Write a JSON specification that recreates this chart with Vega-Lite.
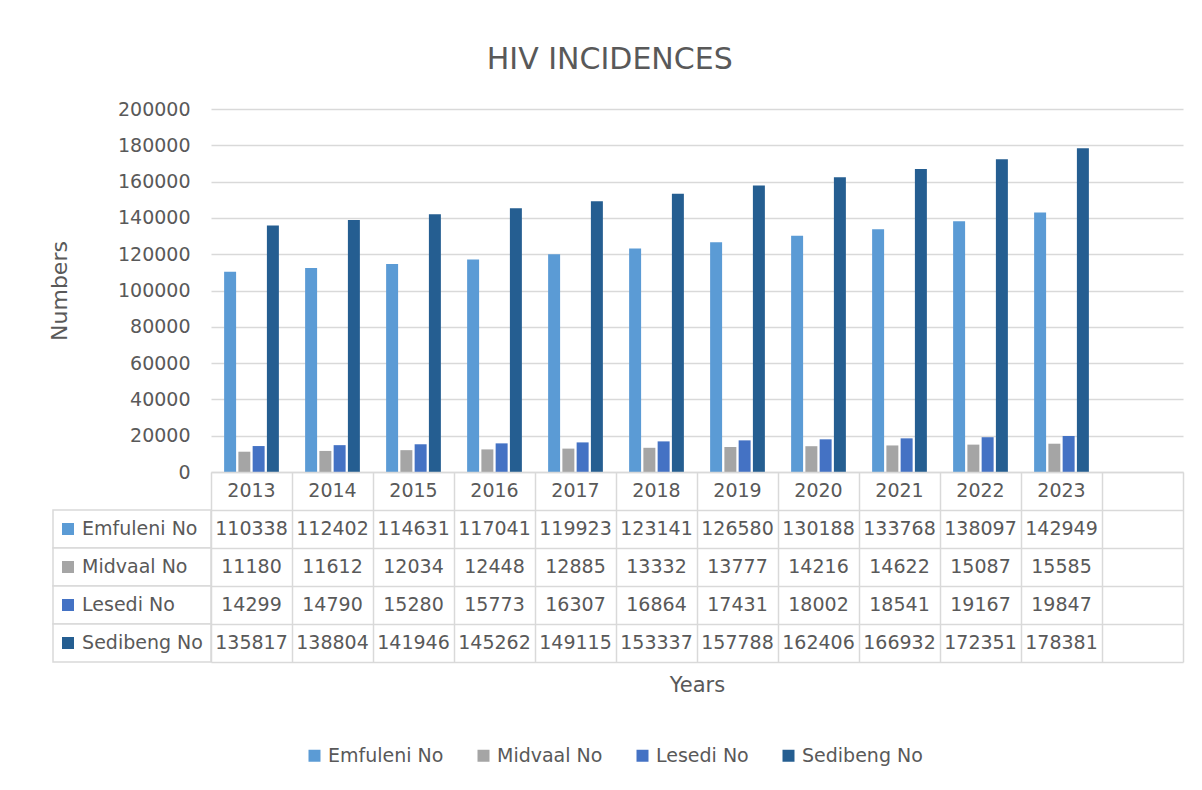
{
  "$schema": "https://vega.github.io/schema/vega-lite/v6.json",
  "background": "white",
  "padding": {"left": 48, "top": 45, "right": 10, "bottom": 10},
  "title": {"text": "HIV INCIDENCES", "fontSize": 30, "fontWeight": "normal", "color": "#595959", "anchor": "middle", "offset": 25, "dx": -6},
  "datasets": {
    "hiv": [
      {"year": "2013", "series": "Emfuleni No", "value": 110338},
      {"year": "2014", "series": "Emfuleni No", "value": 112402},
      {"year": "2015", "series": "Emfuleni No", "value": 114631},
      {"year": "2016", "series": "Emfuleni No", "value": 117041},
      {"year": "2017", "series": "Emfuleni No", "value": 119923},
      {"year": "2018", "series": "Emfuleni No", "value": 123141},
      {"year": "2019", "series": "Emfuleni No", "value": 126580},
      {"year": "2020", "series": "Emfuleni No", "value": 130188},
      {"year": "2021", "series": "Emfuleni No", "value": 133768},
      {"year": "2022", "series": "Emfuleni No", "value": 138097},
      {"year": "2023", "series": "Emfuleni No", "value": 142949},
      {"year": "2013", "series": "Midvaal No", "value": 11180},
      {"year": "2014", "series": "Midvaal No", "value": 11612},
      {"year": "2015", "series": "Midvaal No", "value": 12034},
      {"year": "2016", "series": "Midvaal No", "value": 12448},
      {"year": "2017", "series": "Midvaal No", "value": 12885},
      {"year": "2018", "series": "Midvaal No", "value": 13332},
      {"year": "2019", "series": "Midvaal No", "value": 13777},
      {"year": "2020", "series": "Midvaal No", "value": 14216},
      {"year": "2021", "series": "Midvaal No", "value": 14622},
      {"year": "2022", "series": "Midvaal No", "value": 15087},
      {"year": "2023", "series": "Midvaal No", "value": 15585},
      {"year": "2013", "series": "Lesedi No", "value": 14299},
      {"year": "2014", "series": "Lesedi No", "value": 14790},
      {"year": "2015", "series": "Lesedi No", "value": 15280},
      {"year": "2016", "series": "Lesedi No", "value": 15773},
      {"year": "2017", "series": "Lesedi No", "value": 16307},
      {"year": "2018", "series": "Lesedi No", "value": 16864},
      {"year": "2019", "series": "Lesedi No", "value": 17431},
      {"year": "2020", "series": "Lesedi No", "value": 18002},
      {"year": "2021", "series": "Lesedi No", "value": 18541},
      {"year": "2022", "series": "Lesedi No", "value": 19167},
      {"year": "2023", "series": "Lesedi No", "value": 19847},
      {"year": "2013", "series": "Sedibeng No", "value": 135817},
      {"year": "2014", "series": "Sedibeng No", "value": 138804},
      {"year": "2015", "series": "Sedibeng No", "value": 141946},
      {"year": "2016", "series": "Sedibeng No", "value": 145262},
      {"year": "2017", "series": "Sedibeng No", "value": 149115},
      {"year": "2018", "series": "Sedibeng No", "value": 153337},
      {"year": "2019", "series": "Sedibeng No", "value": 157788},
      {"year": "2020", "series": "Sedibeng No", "value": 162406},
      {"year": "2021", "series": "Sedibeng No", "value": 166932},
      {"year": "2022", "series": "Sedibeng No", "value": 172351},
      {"year": "2023", "series": "Sedibeng No", "value": 178381}
    ]
  },
  "columns": 2,
  "align": "each",
  "bounds": "flush",
  "spacing": {"row": 0, "column": 0},
  "concat": [
    {
      "width": 158,
      "height": 10,
      "data": {"values": [{"a": 1}]},
      "mark": {"type": "text", "text": ""},
      "encoding": {}
    },
    {
      "width": 972,
      "height": 363,
      "data": {"name": "hiv"},
      "mark": {"type": "bar"},
      "encoding": {
        "x": {"field": "year", "type": "nominal", "scale": {"domain": ["2013", "2014", "2015", "2016", "2017", "2018", "2019", "2020", "2021", "2022", "2023", " "], "paddingInner": 0, "paddingOuter": 0}, "axis": null},
        "xOffset": {"field": "series", "type": "nominal", "scale": {"domain": ["Emfuleni No", "Midvaal No", "Lesedi No", "Sedibeng No"], "paddingInner": 0.16, "paddingOuter": 0.92}},
        "y": {
          "field": "value", "type": "quantitative",
          "scale": {"domain": [0, 200000], "nice": false},
          "axis": {
            "values": [0, 20000, 40000, 60000, 80000, 100000, 120000, 140000, 160000, 180000, 200000],
            "format": "d", "title": "Numbers", "grid": true, "gridColor": "#d9d9d9", "gridWidth": 1.5,
            "domain": false, "ticks": false, "tickSize": 0, "labelPadding": 21, "labelFontSize": 19,
            "labelColor": "#595959", "titleFontSize": 22, "titleColor": "#595959", "titleFontWeight": "normal", "titlePadding": 46
          }
        },
        "color": {
          "field": "series", "type": "nominal",
          "scale": {"domain": ["Emfuleni No", "Midvaal No", "Lesedi No", "Sedibeng No"], "range": ["#5b9bd5", "#a5a5a5", "#4472c4", "#255e91"]},
          "legend": {"orient": "none", "legendX": 94, "legendY": 637, "direction": "horizontal", "title": null, "symbolType": "square", "symbolSize": 144, "symbolStrokeWidth": 0, "labelFontSize": 19, "labelColor": "#595959", "columnPadding": 30, "labelOffset": 4}
        }
      }
    },
    {
      "width": 158,
      "height": 190,
      "data": {"name": "hiv"},
      "transform": [{"filter": "datum.year === '2013'"}],
      "encoding": {
        "y": {"field": "series", "type": "nominal", "scale": {"domain": ["Year", "Emfuleni No", "Midvaal No", "Lesedi No", "Sedibeng No"], "paddingInner": 0, "paddingOuter": 0}, "axis": null}
      },
      "layer": [
        {
          "mark": {"type": "rect", "fill": "white", "stroke": "#d9d9d9", "strokeWidth": 1.5},
          "encoding": {"x": {"datum": "c", "type": "nominal", "scale": {"type": "band", "paddingInner": 0, "paddingOuter": 0}, "axis": null}}
        },
        {
          "mark": {"type": "square", "size": 144, "opacity": 1},
          "encoding": {
            "x": {"datum": "c", "type": "nominal", "bandPosition": 0.095, "scale": {"type": "band", "paddingInner": 0, "paddingOuter": 0}, "axis": null},
            "color": {"field": "series", "type": "nominal", "scale": {"domain": ["Emfuleni No", "Midvaal No", "Lesedi No", "Sedibeng No"], "range": ["#5b9bd5", "#a5a5a5", "#4472c4", "#255e91"]}, "legend": null}
          }
        },
        {
          "mark": {"type": "text", "align": "left", "baseline": "middle", "fontSize": 19, "color": "#595959"},
          "encoding": {
            "x": {"datum": "c", "type": "nominal", "bandPosition": 0.184, "scale": {"type": "band", "paddingInner": 0, "paddingOuter": 0}, "axis": null},
            "text": {"field": "series"}
          }
        }
      ]
    },
    {
      "width": 972,
      "height": 190,
      "data": {"name": "hiv"},
      "encoding": {
        "x": {
          "field": "year", "type": "nominal",
          "scale": {"domain": ["2013", "2014", "2015", "2016", "2017", "2018", "2019", "2020", "2021", "2022", "2023", " "], "paddingInner": 0, "paddingOuter": 0},
          "axis": {"grid": true, "tickBand": "extent", "gridColor": "#d9d9d9", "gridWidth": 1.5, "labels": false, "ticks": false, "domain": false, "title": "Years", "titleFontSize": 21, "titlePadding": 12, "titleColor": "#595959", "titleFontWeight": "normal"}
        },
        "y": {
          "field": "series", "type": "nominal",
          "scale": {"domain": ["Year", "Emfuleni No", "Midvaal No", "Lesedi No", "Sedibeng No"], "paddingInner": 0, "paddingOuter": 0},
          "axis": {"grid": true, "tickBand": "extent", "gridColor": "#d9d9d9", "gridWidth": 1.5, "labels": false, "ticks": false, "domain": false, "title": null}
        }
      },
      "layer": [
        {
          "mark": {"type": "text", "fontSize": 19, "color": "#595959", "baseline": "middle"},
          "encoding": {"text": {"field": "value", "type": "quantitative", "format": "d"}}
        },
        {
          "transform": [{"filter": "datum.series === 'Emfuleni No'"}],
          "mark": {"type": "text", "fontSize": 19, "color": "#595959", "baseline": "middle"},
          "encoding": {
            "y": {"datum": "Year", "type": "nominal"},
            "text": {"field": "year", "type": "nominal"}
          }
        }
      ]
    }
  ],
  "resolve": {
    "scale": {"color": "independent", "x": "independent", "y": "independent", "xOffset": "independent"},
    "legend": {"color": "independent"}
  },
  "config": {
    "font": "DejaVu Sans",
    "view": {"stroke": null},
    "axis": {"labelFont": "DejaVu Sans", "titleFont": "DejaVu Sans"},
    "legend": {"labelFont": "DejaVu Sans"},
    "text": {"font": "DejaVu Sans"}
  }
}
